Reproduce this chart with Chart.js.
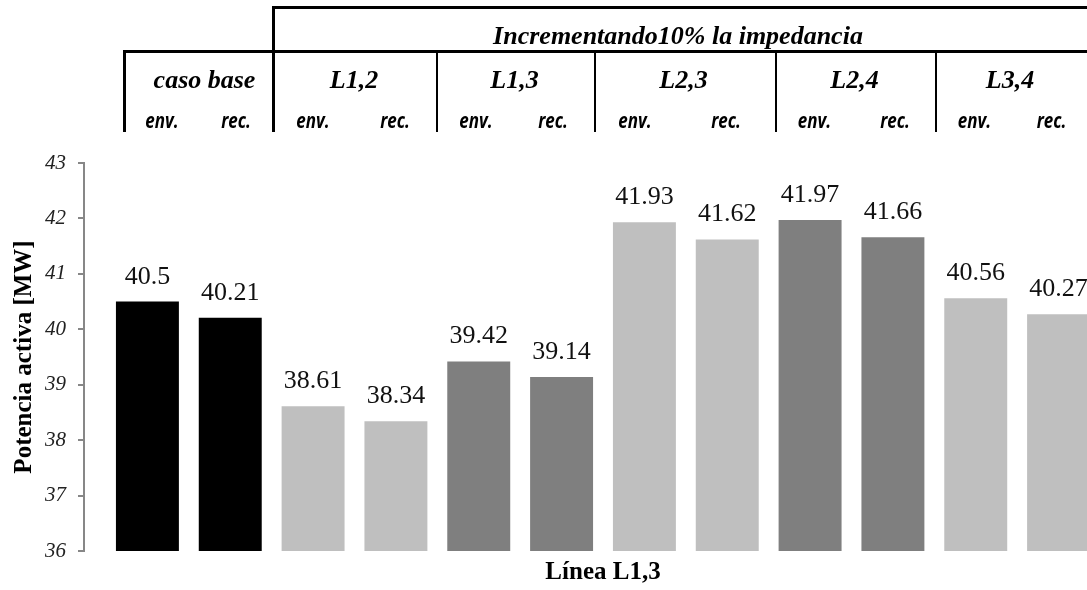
<!DOCTYPE html>
<html lang="es">
<head>
<meta charset="utf-8">
<title>Potencia activa - Línea L1,3</title>
<script src="https://cdn.jsdelivr.net/npm/chart.js@4.4.1/dist/chart.umd.min.js"></script>
<style>
  html, body { margin: 0; padding: 0; overflow: hidden; background: #fff; }
  #wrap { position: relative; width: 1087px; height: 590px; overflow: hidden; }
  #chartBox { position: absolute; left: 0; top: 0; width: 1100px; height: 590px; }
  .line { position: absolute; background: #000; }
  .head {
    position: absolute; white-space: nowrap; transform: translateX(-50%);
    font-family: 'Liberation Serif', serif; font-weight: bold; font-style: italic;
    font-size: 26px; line-height: 26px; color: #000;
  }
  .sub {
    position: absolute; white-space: nowrap;
    font-family: 'Open Sans', sans-serif; font-weight: bold; font-style: italic;
    font-size: 17px; line-height: 17px; color: #000;
    transform-origin: 50% 15px; transform: translateX(-50%) scaleY(1.3);
  }
</style>
</head>
<body>
<div id="wrap">
  <div id="chartBox"><canvas id="barChart"></canvas></div>
  <div id="header"></div>
</div>
<script>
// data
const categories = [
  'caso base env.', 'caso base rec.',
  'L1,2 env.', 'L1,2 rec.',
  'L1,3 env.', 'L1,3 rec.',
  'L2,3 env.', 'L2,3 rec.',
  'L2,4 env.', 'L2,4 rec.',
  'L3,4 env.', 'L3,4 rec.'
];
const values = [40.5, 40.21, 38.61, 38.34, 39.42, 39.14, 41.93, 41.62, 41.97, 41.66, 40.56, 40.27];
const groups = ['caso base', 'L1,2', 'L1,3', 'L2,3', 'L2,4', 'L3,4'];
const ends = ['env.', 'rec.'];
const topTitle = 'Incrementando10% la impedancia';
const yMin = 36;
const yMax = 43;

// styles
const barColors = ['#000000', '#000000', '#bfbfbf', '#bfbfbf', '#7f7f7f', '#7f7f7f',
                   '#bfbfbf', '#bfbfbf', '#7f7f7f', '#7f7f7f', '#bfbfbf', '#bfbfbf'];

// header table, positions
const header = document.getElementById('header');
const lines = [
  [273, 6, 830, 3], [123, 50, 980, 3],
  [123, 50, 3, 82], [272, 6, 3, 126],
  [436, 50, 2, 82], [594, 50, 2, 82], [775, 50, 2, 82], [935, 50, 2, 82]
];
lines.forEach(l => {
  const d = document.createElement('div');
  d.className = 'line';
  d.style.cssText = `left:${l[0]}px;top:${l[1]}px;width:${l[2]}px;height:${l[3]}px`;
  header.appendChild(d);
});

function addText(cls, text, x, top) {
  const d = document.createElement('div');
  d.className = cls;
  d.textContent = text;
  d.style.left = x + 'px';
  d.style.top = top + 'px';
  header.appendChild(d);
}

addText('head', topTitle, 678, 23);
const groupX = [204.5, 354, 514.5, 683.5, 854.5, 1010];
const envX = [162, 313, 476, 635, 814.5, 974.5];
const recX = [236, 395, 553, 726, 895, 1051.5];
groups.forEach((g, i) => {
  addText('head', g, groupX[i], 66.5);
  addText('sub', ends[0], envX[i], 113);
  addText('sub', ends[1], recX[i], 113);
});

// value labels above bars
const valueLabels = {
  id: 'valueLabels',
  afterDatasetsDraw(chart) {
    const ctx = chart.ctx;
    const meta = chart.getDatasetMeta(0);
    ctx.save();
    ctx.font = '26px "Liberation Serif"';
    ctx.fillStyle = '#111';
    ctx.textAlign = 'center';
    ctx.textBaseline = 'alphabetic';
    meta.data.forEach((bar, i) => {
      ctx.fillText(String(values[i]), bar.x, bar.y - 18);
    });
    ctx.restore();
  }
};

new Chart(document.getElementById('barChart'), {
  type: 'bar',
  data: {
    labels: categories,
    datasets: [{
      data: values,
      backgroundColor: barColors,
      borderWidth: 0,
      categoryPercentage: 1,
      barPercentage: 0.76
    }]
  },
  options: {
    responsive: true,
    maintainAspectRatio: false,
    animation: false,
    devicePixelRatio: 1,
    layout: { padding: { top: 163, right: 0, bottom: 2, left: 0 } },
    plugins: {
      legend: { display: false },
      tooltip: { enabled: false }
    },
    scales: {
      x: {
        offset: true,
        grid: { display: false, drawTicks: false },
        border: { display: false },
        ticks: { display: false },
        title: {
          display: true,
          text: 'Línea L1,3',
          color: '#000',
          font: { family: 'Liberation Serif', size: 25, weight: 'bold' },
          padding: { top: 7, bottom: 0 }
        }
      },
      y: {
        position: 'left',
        weight: 1,
        min: yMin,
        max: yMax,
        ticks: {
          stepSize: 1,
          color: '#222',
          padding: 12,
          font: { family: 'Liberation Serif', size: 21, style: 'italic' }
        },
        grid: { drawOnChartArea: false, tickLength: 6, color: '#878787', lineWidth: 2 },
        border: { color: '#878787', width: 2 },
        title: {
          display: true,
          text: 'Potencia activa [MW]',
          color: '#000',
          font: { family: 'Liberation Serif', size: 25, weight: 'bold' },
          padding: { top: 10, bottom: 0 }
        },
        afterFit: s => { s.width = 84; }
      },
      // empty strip between the axis line and the first bar
      gap: {
        type: 'linear',
        axis: 'y',
        position: 'left',
        weight: 0,
        grid: { display: false, drawTicks: false },
        border: { display: false },
        ticks: { display: false },
        afterFit: s => { s.width = 22; }
      }
    }
  },
  plugins: [valueLabels]
});
</script>
</body>
</html>
